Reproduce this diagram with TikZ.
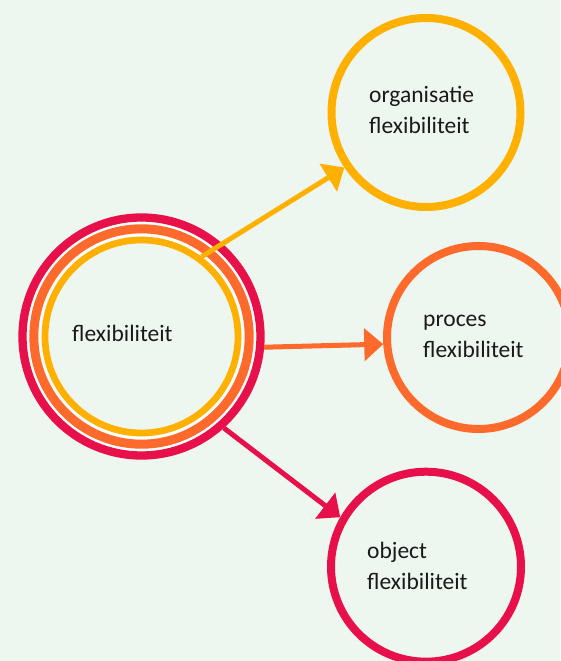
\documentclass[tikz,border=0pt]{standalone}
\usepackage{fontspec}
\setmainfont{Carlito}
\usetikzlibrary{arrows.meta}
\definecolor{bgmint}{RGB}{237,246,239}
\definecolor{ringred}{RGB}{232,16,74}
\definecolor{ringorange}{RGB}{253,106,43}
\definecolor{ringyellow}{RGB}{255,176,0}
\definecolor{inktext}{RGB}{26,26,26}
\begin{document}
\begin{tikzpicture}[x=1pt,y=1pt,
  ring/.style n args={3}{circle, draw=#1, minimum size=#2, line width=#3,
    inner sep=0pt, outer sep=0.5*#3},
  gap/.style={circle, draw=white, minimum size=#1, line width=3pt, inner sep=0pt},
  flow/.style={draw=#1, line width=5pt, -{Triangle[length=19pt,width=32pt]}},
  caption/.style={inner sep=0pt, anchor=base west, align=left, text=inktext,
    font=\fontsize{23.5}{31.5}\selectfont}]
  % canvas
  \fill[bgmint] (0,0) rectangle (560,661);
  \useasboundingbox (0,0) rectangle (560,661);

  % central triple ring
  \node[gap=227] (gapouter) at (141.5,324.5) {};
  \node[gap=203] (gapinner) at (141.5,324.5) {};
  \node[ring={ringred}{238}{8.3pt}] (hubred) at (141.5,324.5) {};
  \node[ring={ringorange}{215.4}{9pt}] (huborange) at (141.5,324.5) {};
  \node[ring={ringyellow}{193}{6.7pt}] (hubyellow) at (141.5,324.5) {};
  \node[caption] (hubtext) at (72,319) {flexibiliteit};

  % the three kinds of flexibility (base anchor sits on the last line)
  \node[ring={ringyellow}{189}{8pt}] (org) at (426,548.5) {};
  \node[ring={ringorange}{183}{8pt}] (proc) at (478.5,323.5) {};
  \node[ring={ringred}{190}{8pt}] (obj) at (426,94.3) {};
  \node[caption] (orgtext) at (369,527) {organisatie\\flexibiliteit};
  \node[caption] (proctext) at (423,303) {proces\\flexibiliteit};
  \node[caption] (objtext) at (367,71) {object\\flexibiliteit};

  % connectors
  \draw[flow=ringyellow] (hubyellow.53) -- (org.214.5);
  \draw[flow=ringorange] (hubred.-5.5) -- (proc.184.9);
  \draw[flow=ringred] (hubred.-48.8) -- (obj.150.8);
\end{tikzpicture}
\end{document}
